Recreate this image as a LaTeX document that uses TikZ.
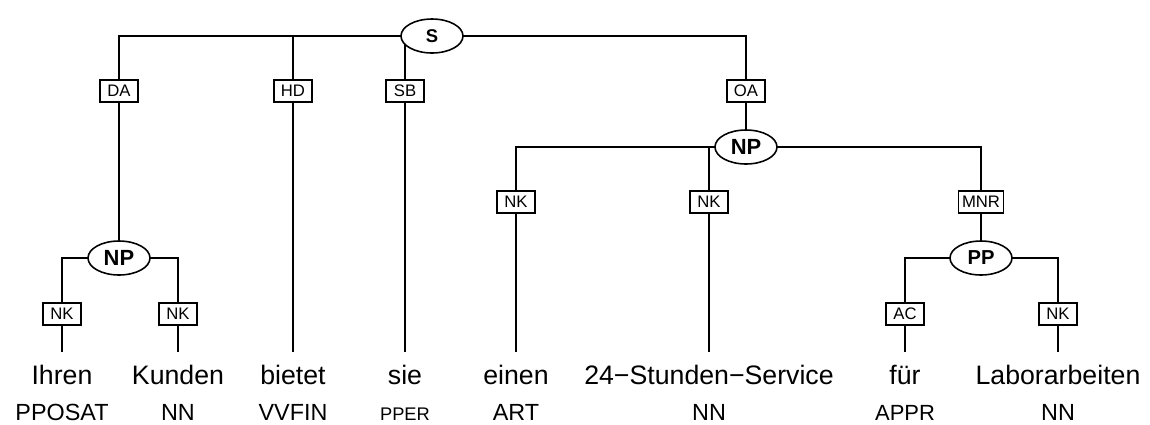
\documentclass[tikz,border=0pt]{standalone}
\usepackage{fontspec}
\setmainfont{Liberation Sans}
\usetikzlibrary{backgrounds}
\usetikzlibrary{shapes.geometric}

\tikzset{
  cat/.style={ellipse,draw,fill=white,line width=0.9pt,inner sep=0pt,
    minimum width=1.24cm,minimum height=0.68cm,font=\fontsize{12.5}{12.5}\selectfont\bfseries},
  fn/.style={rectangle,draw,fill=white,line width=0.9pt,inner xsep=2pt,inner ysep=0pt,
    minimum width=0.76cm,minimum height=0.44cm,font=\fontsize{9.5}{9.5}\selectfont},
  word/.style={anchor=base,inner sep=0pt,text height=18pt,font=\fontsize{15.2}{15.2}\selectfont},
  tag/.style={anchor=base,inner sep=0pt,font=\fontsize{13.3}{13.3}\selectfont},
  arc/.style={line width=0.9pt}
}

\begin{document}
\begin{tikzpicture}[x=0.02cm,y=-0.02cm]
  \useasboundingbox (0,0) rectangle (1150,424);
  %% phrases
  \node[cat,font=\fontsize{10.5}{10.5}\selectfont\bfseries] (s) at (432,36) {S};
  \node[cat] (npleft) at (119,258) {NP};
  \node[cat] (npright) at (746,147) {NP};
  \node[cat,font=\fontsize{11.5}{11.5}\selectfont\bfseries] (pp) at (981,258) {PP};
  %% edge labels
  \node[fn] (da) at (119,91) {DA};
  \node[fn] (hd) at (293,91) {HD};
  \node[fn] (sb) at (405,91) {SB};
  \node[fn] (oa) at (746,91) {OA};
  \node[fn] (nka) at (62,314) {NK};
  \node[fn] (nkb) at (178,314) {NK};
  \node[fn] (nkc) at (516,202) {NK};
  \node[fn] (nkd) at (709,202) {NK};
  \node[fn] (mnr) at (981,202) {MNR};
  \node[fn] (ac) at (905,314) {AC};
  \node[fn] (nke) at (1058,314) {NK};
  %% words
  \node[word] (ihren) at (62,384) {Ihren};
  \node[word] (kunden) at (178,384) {Kunden};
  \node[word] (bietet) at (293,384) {bietet};
  \node[word] (sie) at (405,384) {sie};
  \node[word] (einen) at (516,384) {einen};
  \node[word] (service) at (709,384) {24−Stunden−Service};
  \node[word] (fuer) at (905,384) {für};
  \node[word] (labor) at (1058,384) {Laborarbeiten};
  %% tags
  \node[tag] (tihren) at (62,420) {PPOSAT};
  \node[tag] (tkunden) at (178,420) {NN};
  \node[tag] (tbietet) at (293,420) {VVFIN};
  \node[tag,font=\fontsize{10.4}{10.4}\selectfont] (tsie) at (405,420) {PPER};
  \node[tag] (teinen) at (516,420) {ART};
  \node[tag] (tservice) at (709,420) {NN};
  \node[tag,font=\fontsize{12.5}{12.5}\selectfont] (tfuer) at (905,420) {APPR};
  \node[tag] (tlabor) at (1058,420) {NN};
  %% tree lines, behind the nodes
  \begin{scope}[on background layer]
    \draw[arc] (s.center) -| (da.center) -- (npleft.center);
    \draw[arc] (s.center) -| (hd.center) -- (bietet.north);
    \draw[arc] (s.center) -| (sb.center) -- (sie.north);
    \draw[arc] (s.center) -| (oa.center) -- (npright.center);
    \draw[arc] (npleft.center) -| (nka.center) -- (ihren.north);
    \draw[arc] (npleft.center) -| (nkb.center) -- (kunden.north);
    \draw[arc] (npright.center) -| (nkc.center) -- (einen.north);
    \draw[arc] (npright.center) -| (nkd.center) -- (service.north);
    \draw[arc] (npright.center) -| (mnr.center) -- (pp.center);
    \draw[arc] (pp.center) -| (ac.center) -- (fuer.north);
    \draw[arc] (pp.center) -| (nke.center) -- (labor.north);
  \end{scope}
\end{tikzpicture}
\end{document}
